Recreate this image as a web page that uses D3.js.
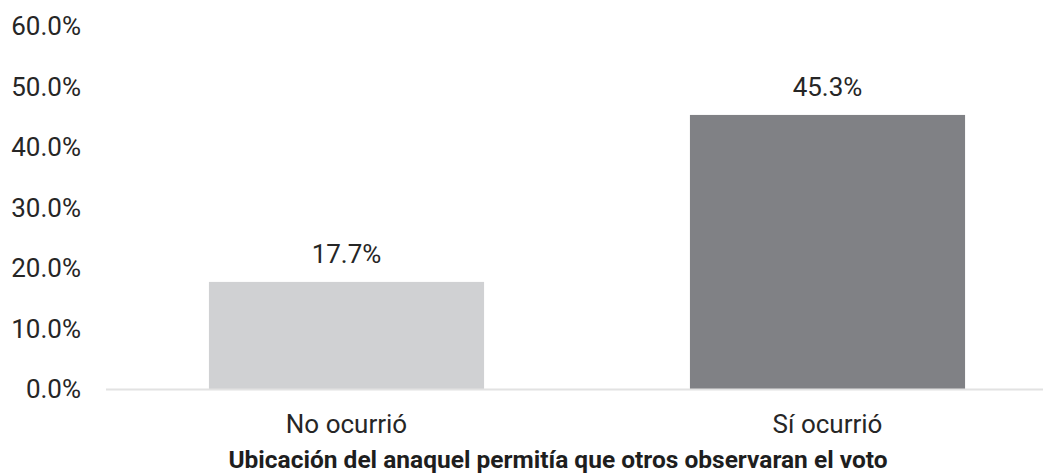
<!DOCTYPE html>
<html>
<head>
<meta charset="utf-8">
<script src="https://cdn.jsdelivr.net/npm/d3@7"></script>
<style>
  html, body { margin: 0; padding: 0; background: #ffffff; }
  svg { display: block; font-family: Roboto, "Open Sans", sans-serif; }
</style>
</head>
<body>
<svg id="chart" width="1053" height="474"></svg>
<script>
const categories = ["No ocurrió", "Sí ocurrió"];
const values = [17.7, 45.3];
const barColors = ["#d0d1d3", "#808185"];
const yTicks = [0, 10, 20, 30, 40, 50, 60];
const xTitle = "Ubicación del anaquel permitía que otros observaran el voto";

const svg = d3.select("#chart");
const textColor = "#262626";
const fs = 26;

const x = d3.scaleBand().domain(categories).range([106, 1068])
  .paddingInner(0.428).paddingOuter(0.214);
const y = d3.scaleLinear().domain([0, 60]).range([389, 26]);

// y tick labels
const yAxis = d3.axisLeft(y).tickValues(yTicks)
  .tickFormat(d => d3.format(".1f")(d) + "%").tickSize(0).tickPadding(0);
const gy = svg.append("g").attr("transform", "translate(81,0)").call(yAxis);
gy.select(".domain").remove();
gy.selectAll("text").attr("fill", textColor).attr("font-size", fs)
  .attr("font-family", "Roboto, sans-serif").attr("dy", "0.34em");

// bars
svg.append("g").selectAll("rect").data(values).join("rect")
  .attr("x", (d, i) => x(categories[i]))
  .attr("y", d => y(d))
  .attr("width", x.bandwidth())
  .attr("height", d => y(0) - y(d))
  .attr("fill", (d, i) => barColors[i]);

// baseline
svg.append("line").attr("x1", 106).attr("x2", 1043)
  .attr("y1", y(0) + 0.5).attr("y2", y(0) + 0.5)
  .attr("stroke", "#e2e2e2").attr("stroke-width", 2);

// value labels
svg.append("g").selectAll("text").data(values).join("text")
  .attr("x", (d, i) => x(categories[i]) + x.bandwidth() / 2)
  .attr("y", d => y(d) - 19)
  .attr("text-anchor", "middle").attr("font-size", fs).attr("fill", textColor)
  .text(d => d3.format(".1f")(d) + "%");

// category labels
const xAxis = d3.axisBottom(x).tickSize(0).tickPadding(0);
const gx = svg.append("g").attr("transform", "translate(0,433)").call(xAxis);
gx.select(".domain").remove();
gx.selectAll("text").attr("fill", textColor).attr("font-size", fs)
  .attr("font-family", "Roboto, sans-serif").attr("dy", "0");

// axis title
svg.append("text").attr("x", 558)
  .attr("y", 468).attr("text-anchor", "middle").attr("font-size", 24.5)
  .attr("font-weight", "bold").attr("fill", "#1e1e1e").text(xTitle);
</script>
</body>
</html>
